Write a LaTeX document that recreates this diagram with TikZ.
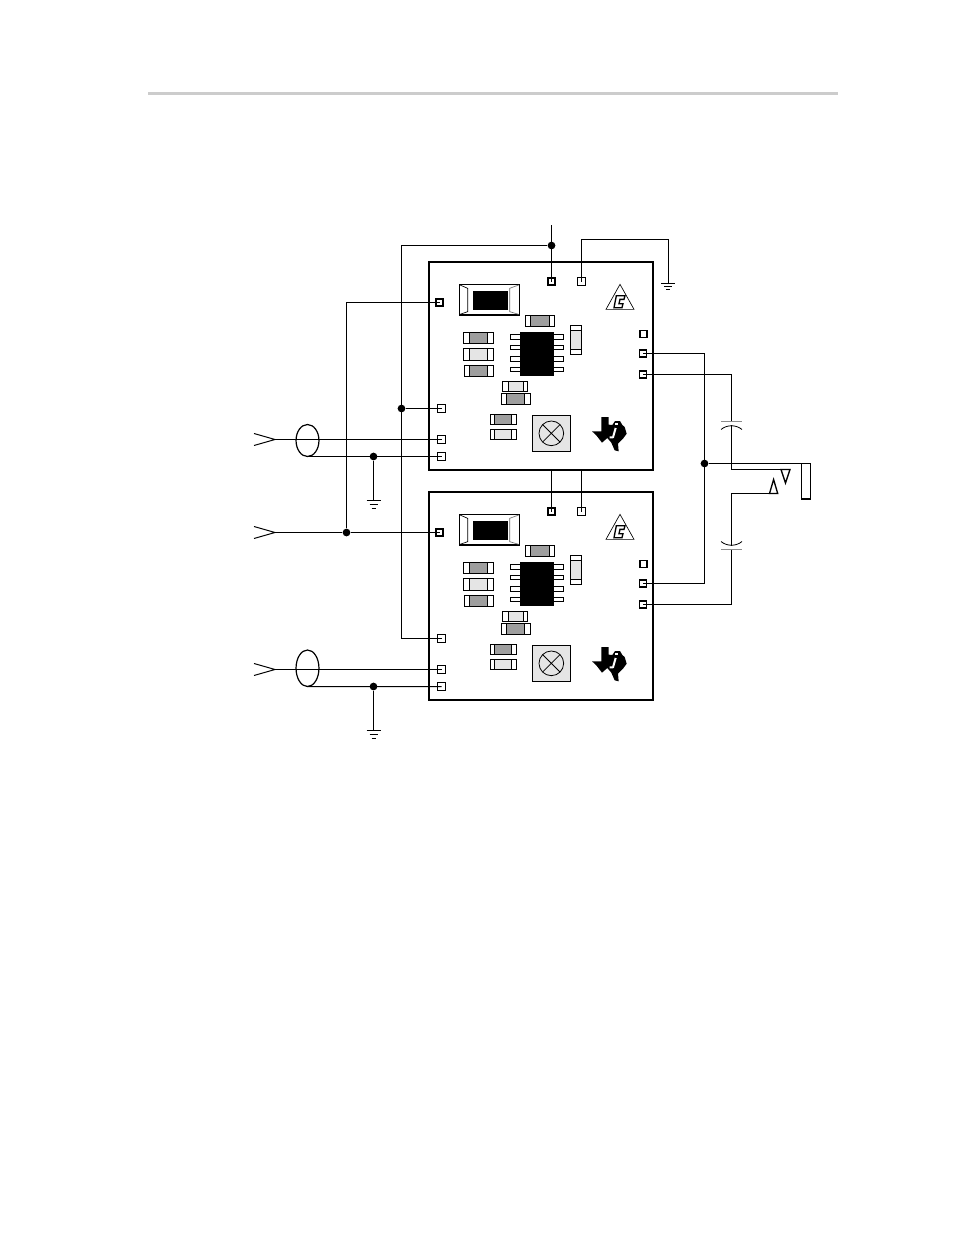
\documentclass[tikz,border=0pt]{standalone}
\usetikzlibrary{calc,shapes.geometric}
\definecolor{midg}{gray}{0.62}
\definecolor{lightg}{gray}{0.90}
\definecolor{rule}{gray}{0.80}
\tikzset{
  x=0.75pt,y=-0.75pt,
  wire/.style={line width=0.75pt,line cap=butt},
  pinbox/.style={draw,fill=white,minimum size=5.6pt,inner sep=0pt,line width=0.75pt},
  pinthick/.style={pinbox,line width=1.3pt,minimum size=5.2pt},
  dot/.style={circle,fill=black,inner sep=0pt,minimum size=5.8pt},
  board/.style={line width=1.5pt},
  part/.style={draw,fill=white,line width=0.7pt},
  plate/.style={draw=black!45,line width=1pt},
  gndbar/.style={line width=0.75pt},
  coax/.style={draw,ellipse,line width=0.9pt,minimum width=17.2pt,inner sep=0pt,outer sep=0pt},
}
% one component in zoom units: x1 x2 y1 y2 corex1 corex2 colour
\newcommand{\smd}[7]{%
  \draw[part] (#1,#3) rectangle (#2,#4);
  \fill[#7] (#5,#3) rectangle (#6,#4);
  \draw[line width=0.6pt] (#5,#3) -- (#6,#3) (#5,#4) -- (#6,#4) (#5,#3) -- (#5,#4) (#6,#3) -- (#6,#4);
}
\newcommand{\boardparts}[2]{%
\begin{scope}[shift={(425,#2)},x=0.25pt,y=-0.25pt]
  \draw[board] (12,21) rectangle (684,645);
  \node[pinthick] (#1t1) at (379.5,79.5) {};
  \node[pinbox] (#1t2) at (469.5,79.5) {};
  \node[pinthick] (#1l1) at (43.5,142.5) {};
  \node[pinbox] (#1l2) at (49.5,460.5) {};
  \node[pinbox] (#1l3) at (49.5,553.5) {};
  \node[pinbox] (#1l4) at (49.5,604.5) {};
  \node[pinthick] (#1r1) at (655.5,237) {};
  \node[pinthick] (#1r2) at (654,295.5) {};
  \node[pinthick] (#1r3) at (654,358.5) {};
  % large resistor
  \draw[line width=1.1pt,fill=white] (103,88) rectangle (283,180);
  \fill[black] (145,108) rectangle (248,164);
  \draw[line width=0.5pt] (105,90) -- (128,100) -- (128,170) -- (105,178);
  \draw[line width=0.5pt,black!55] (281,90) -- (254,100) -- (254,170) -- (281,178);
  \draw[line width=0.8pt,black!40] (254,100) -- (254,170);
  % small parts
  \smd{302}{388}{181}{213}{316}{372}{midg}
  \smd{115}{205}{231}{265}{133}{188}{midg}
  \smd{115}{205}{281}{315}{133}{188}{lightg}
  \smd{118}{205}{332}{365}{133}{188}{midg}
  \smd{232}{308}{378}{408}{250}{296}{lightg}
  \smd{229}{317}{414}{448}{244}{299}{midg}
  \smd{196}{275}{478}{508}{208}{260}{midg}
  \smd{196}{275}{523}{554}{208}{260}{lightg}
  % vertical part
  \draw[part] (436,211) rectangle (470,298);
  \fill[lightg] (436,226) rectangle (470,282);
  \draw[line width=0.6pt] (436,226) -- (470,226) (436,282) -- (470,282) (436,211) rectangle (470,298);
  % IC
  \foreach \yy in {238,270,304,336}{
    \draw[line width=0.6pt,fill=white] (256,\yy) rectangle (286,\yy+14);
    \draw[line width=0.6pt,fill=white] (386,\yy) rectangle (416,\yy+14);
  }
  \fill[black] (286,232) rectangle (386,362);
  % trimmer
  \fill[lightg] (322,482) rectangle (437,590);
  \draw[line width=1pt] (322,482) -- (437,482) (322,590) -- (437,590);
  \draw[line width=0.5pt] (322,482) -- (322,590) (437,482) -- (437,590);
  \draw[line width=0.6pt] (379,535) circle[radius=37];
  \draw[line width=0.6pt] (353,509) -- (405,561) (353,561) -- (405,509);
  % triangle mark
  \draw[line width=0.5pt] (585,88) -- (627,163) -- (543,163) -- cycle;
  \draw[line width=1pt,fill=white,line join=miter] (574,122) -- (600,122) -- (597,133) -- (585,133) -- (582,146) -- (594,146) -- (591,158) -- (567,158) -- cycle;
  % TI logo
  \fill[black] (529,486) -- (551,486) -- (551,509) -- (562,510) -- (570,498) -- (585,498) -- (592,510) -- (599,516) -- (605,536) -- (594,551) -- (579,566) -- (581,589) -- (569,586) -- (559,563) -- (547,549) -- (531,563) -- (514,541) -- (501,529) -- (529,529) -- cycle;
  \draw[white,line width=1.5pt,line join=round] (572,519) -- (564,547) -- (554,547);
  \fill[white] (571,503) rectangle (580,511);
\end{scope}}
\begin{document}
\begin{tikzpicture}
\useasboundingbox (0,0) rectangle (954,1235);
\fill[white] (0,0) rectangle (954,1235);
\fill[rule] (148,91.5) rectangle (838,94.5);

\boardparts{a}{255}
\boardparts{b}{485}

% free ends and junctions
\coordinate (vtop) at (551.5,225);
\node[dot] (j1) at (551.5,245.5) {};
\coordinate (leftbus) at (401.5,245.5);
\node[dot] (j2) at (401.5,408.5) {};
\node[dot] (j3) at (346.5,532.5) {};
\coordinate (gcorner) at (668.5,239.5);
\coordinate (g1) at (668.5,283.5);

% top connections
\draw[wire] (vtop) -- (at1.center);
\draw[wire] (j1) -- (leftbus) |- (bl2.center);
\draw[wire] (j2) -- (al2.center);
\draw[wire] (at2.center) |- (gcorner) -- (g1);
\draw[gndbar] (661,283.5) -- (675,283.5) (664,286.5) -- (672,286.5) (666,289.5) -- (670,289.5);

% links between boards
\draw[wire] (bt1.center) -- (at1.center |- 0,470);
\draw[wire] (bt2.center) -- (at2.center |- 0,470);

% control input
\coordinate (in2a) at (254,526.5);
\coordinate (in2t) at (275,532.5);
\coordinate (in2b) at (254,538.5);
\draw[wire] (in2a) -- (in2t) -- (in2b);
\draw[wire] (in2t) -- (j3) -- (bl1.center);
\draw[wire] (j3) |- (al1.center);

% coax input 1
\node[coax,minimum height=24pt] (ca) at (307.5,440.5) {};
\coordinate (in1a) at (254,433.5);
\coordinate (in1t) at (275,439.5);
\coordinate (in1b) at (254,445.5);
\draw[wire] (in1a) -- (in1t) -- (in1b);
\draw[wire] (in1t) -- (al3.center);
\node[dot] (j4) at (373.5,456.5) {};
\draw[wire] (ca.south) -- (al4.center);
\coordinate (g2) at (373.5,500.5);
\draw[wire] (j4) -- (g2);
\draw[gndbar] (366.7,500.5) -- (380.7,500.5) (369.7,504.5) -- (377.7,504.5) (371.7,508.5) -- (375.7,508.5);

% coax input 2
\node[coax,minimum height=27.4pt] (cb) at (307.5,668.25) {};
\coordinate (in3a) at (254,663.5);
\coordinate (in3t) at (275,669.5);
\coordinate (in3b) at (254,675.5);
\draw[wire] (in3a) -- (in3t) -- (in3b);
\draw[wire] (in3t) -- (bl3.center);
\node[dot] (j5) at (373.5,686.5) {};
\draw[wire] (cb.south) -- (bl4.center);
\coordinate (g3) at (373.5,730.5);
\draw[wire] (j5) -- (g3);
\draw[gndbar] (366.7,730.5) -- (380.7,730.5) (369.7,734.5) -- (377.7,734.5) (371.7,738.5) -- (375.7,738.5);

% outputs
\coordinate (rb1) at (704.5,353.5);
\node[dot] (j6) at (704.5,463.5) {};
\draw[wire] (ar2.center) -| (rb1) |- (br2.center);

% upper capacitor and jack
\coordinate (cu1) at (731.5,421.5);
\coordinate (cu2) at (731.5,425);
\draw[wire] (ar3.center) -| (cu1);
\draw[plate] (721,421.5) -- (742,421.5);
\draw[line width=0.6pt] (721,429.5) .. controls (727,424.5) and (736,424.5) .. (742,429.5);
\coordinate (su) at (781,469.5);
\draw[wire] (cu2) |- (su);
\draw[line width=1pt,line join=miter] (781,469.5) -- (790,469.5) -- (785.5,483) -- cycle;

% lower capacitor and jack
\coordinate (cl1) at (731.5,549.5);
\coordinate (cl2) at (731.5,545.5);
\coordinate (sl) at (769.5,493.5);
\draw[wire] (br3.center) -| (cl1);
\draw[plate] (721,549.5) -- (742,549.5);
\draw[line width=0.6pt] (721,541.5) .. controls (727,546.5) and (736,546.5) .. (742,541.5);
\draw[wire] (cl2) |- (sl);
\draw[line width=1pt,line join=miter] (769.5,493.5) -- (777.7,493.5) -- (773.6,479.5) -- cycle;

% sleeve
\coordinate (s1) at (811,463.5);
\draw[line width=1pt] (j6) -- (s1);
\draw[line width=0.75pt] (801.5,463.5) -- (801.5,499) (810.5,463.5) -- (810.5,499);
\draw[line width=1.3pt] (801.1,499) -- (810.9,499);
\end{tikzpicture}
\end{document}
